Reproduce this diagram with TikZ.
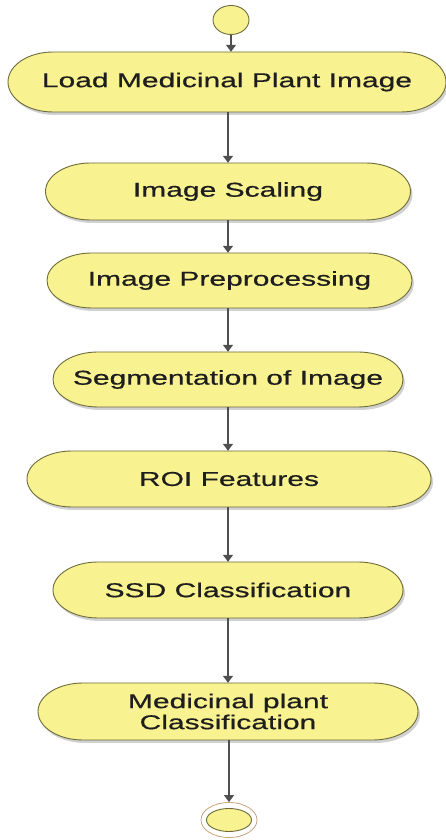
\documentclass[tikz,border=0pt]{standalone}
\usepackage{fontspec}
\setmainfont{Liberation Sans}
\newfontface\boxfont{Liberation Sans}[FakeStretch=1.5, FakeBold=0.5]
\usetikzlibrary{arrows.meta,shapes.geometric}
\definecolor{boxfill}{HTML}{F9F290}
\definecolor{boxedge}{HTML}{6E6C3A}
\definecolor{arrowc}{HTML}{4F4F4F}
\definecolor{ringc}{HTML}{C9A77A}
\definecolor{txtc}{HTML}{1E1E1E}
\newcommand\rxx{45}
\tikzset{
  boxline/.style={draw=boxedge, line width=0.9pt, fill=boxfill},
  boxshadow/.style={fill=black, opacity=0.18},
  boxtext/.style={inner sep=0pt, text=txtc, align=center, font=\boxfont\fontsize{20}{21}\selectfont},
  flow/.style={draw=arrowc, line width=1.2pt, -{Triangle[width=10pt,length=7pt]}},
}
% #1 name, #2 cx, #3 cy, #4 half width, #5 half height, #6 text
\newcommand\actbox[6]{%
  \fill[boxshadow] ({#2-#4+\rxx+2},{#3+#5-3}) -- ({#2+#4-\rxx+2},{#3+#5-3})
     arc[start angle=90,end angle=-90,x radius=\rxx pt,y radius=#5 pt]
     -- ({#2-#4+\rxx+2},{#3-#5-3})
     arc[start angle=270,end angle=90,x radius=\rxx pt,y radius=#5 pt] -- cycle;
  \path[boxline] ({#2-#4+\rxx},{#3+#5}) -- ({#2+#4-\rxx},{#3+#5})
     arc[start angle=90,end angle=-90,x radius=\rxx pt,y radius=#5 pt]
     -- ({#2-#4+\rxx},{#3-#5})
     arc[start angle=270,end angle=90,x radius=\rxx pt,y radius=#5 pt] -- cycle;
  \node[boxtext, minimum width={2*#4 pt}, minimum height={2*#5 pt}] (#1) at (#2,#3) {#6};
}
\begin{document}
\begin{tikzpicture}[x=1pt,y=1pt]
\useasboundingbox (0,0) rectangle (445,840);
\fill[white] (0,0) rectangle (445,840);
% start
\node[ellipse, draw=boxedge, line width=0.9pt, fill=boxfill, minimum width=36pt, minimum height=29pt, inner sep=0pt] (start) at (231,820) {};
\actbox{b1}{227}{758}{219}{30}{Load Medicinal Plant Image}
\actbox{b2}{228}{648.5}{182.5}{28.5}{Image Scaling}
\actbox{b3}{229.5}{559.5}{182.5}{27.5}{Image Preprocessing}
\actbox{b4}{228}{460.5}{175}{27.5}{Segmentation of Image}
\actbox{b5}{229}{361}{202}{28}{ROI Features}
\actbox{b6}{228}{250}{175}{28}{SSD Classification}
\actbox{b7}{228}{128.5}{190}{28.5}{Medicinal plant\\Classification}
% end
\node[ellipse, draw=ringc, line width=0.8pt, minimum width=56pt, minimum height=35pt, inner sep=0pt] (end) at (229,20) {};
\node[ellipse, draw=boxedge, line width=0.9pt, fill=boxfill, minimum width=45pt, minimum height=23pt, inner sep=0pt] (endin) at (end.center) {};
% connectors
\draw[flow] (start.south) -- (b1.north -| start.south);
\draw[flow] (b1.south -| b2.north) -- (b2.north);
\draw[flow] (b2.south) -- (b3.north -| b2.south);
\draw[flow] (b3.south -| b4.north) -- (b4.north);
\draw[flow] (b4.south) -- (b5.north -| b4.south);
\draw[flow] (b5.south -| b6.north) -- (b6.north);
\draw[flow] (b6.south) -- (b7.north);
\draw[flow] (b7.south -| end.north) -- (end.north);
\end{tikzpicture}
\end{document}
